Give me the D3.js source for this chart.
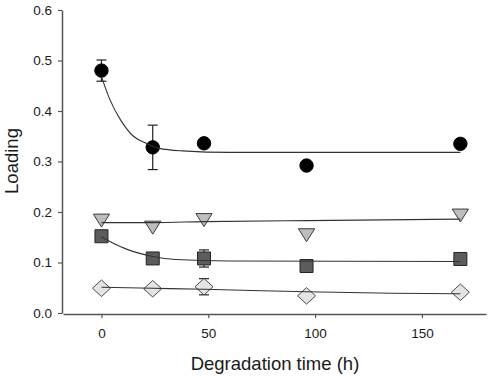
<!DOCTYPE html>
<html>
<head>
<meta charset="utf-8">
<script src="https://cdn.jsdelivr.net/npm/d3@7"></script>
<style>
  body { margin: 0; background: #fff; }
  svg { display: block; font-family: Arial, "Liberation Sans", sans-serif; }
</style>
</head>
<body>
<div id="chart"></div>
<script>
// measured times (h)
var times = [0, 24, 48, 96, 168];

// marker values per series
var circleVals = [0.480, 0.328, 0.336, 0.292, 0.335];
var circleErr = [0.021, 0.044, 0, 0, 0];
var triangleVals = [0.183, 0.169, 0.184, 0.154, 0.193];
var squareVals = [0.152, 0.108, 0.108, 0.093, 0.107];
var squareErr = [0, 0, 0.017, 0, 0];
var diamondVals = [0.049, 0.048, 0.052, 0.034, 0.041];
var diamondErr = [0, 0, 0.016, 0, 0];

// fitted curves
var circleFitT = [0, 4, 9, 15, 21, 27, 38, 60, 100, 168];
var circleFitV = [0.468, 0.422, 0.382, 0.350, 0.336, 0.326, 0.321, 0.318, 0.318, 0.318];
var triangleFitT = [0, 24, 48, 96, 168];
var triangleFitV = [0.179, 0.179, 0.181, 0.183, 0.186];
var squareFitT = [0, 6, 12, 24, 35, 60, 168];
var squareFitV = [0.151, 0.137, 0.126, 0.112, 0.106, 0.103, 0.102];
var diamondFitT = [0, 24, 48, 96, 136, 168];
var diamondFitV = [0.051, 0.049, 0.047, 0.042, 0.039, 0.038];

var xTicks = [0, 50, 100, 150];
var yTicks = [0, 0.1, 0.2, 0.3, 0.4, 0.5, 0.6];

var width = 490, height = 376;

var svg = d3.select("#chart")
    .append("svg")
    .attr("width", width)
    .attr("height", height);

var x = d3.scaleLinear().domain([-18, 180]).range([63, 486]);
var y = d3.scaleLinear().domain([0, 0.6]).range([313, 10]);

// axes
var yAxis = svg.append("g")
    .attr("transform", "translate(62,0)")
    .call(d3.axisLeft(y).tickValues(yTicks).tickFormat(d3.format(".1f"))
        .tickSize(4).tickSizeOuter(0).tickPadding(6));

var xAxis = svg.append("g")
    .attr("transform", "translate(0,314)")
    .call(d3.axisBottom(x).tickValues(xTicks).tickFormat(d3.format("d"))
        .tickSize(4).tickSizeOuter(0).tickPadding(10));

[yAxis, xAxis].forEach(function(a) {
    a.select(".domain").attr("stroke", "#555").attr("stroke-width", 1.5);
    a.selectAll(".tick line").attr("stroke", "#555").attr("stroke-width", 1.2);
    a.selectAll(".tick text").attr("fill", "#1a1a1a").style("font-size", "13.5px");
});

svg.append("text")
    .attr("transform", "translate(18,161) rotate(-90)")
    .attr("text-anchor", "middle")
    .attr("fill", "#1a1a1a")
    .style("font-size", "18.5px")
    .text("Loading");

svg.append("text")
    .attr("x", 275)
    .attr("y", 370)
    .attr("text-anchor", "middle")
    .attr("fill", "#1a1a1a")
    .style("font-size", "18.5px")
    .text("Degradation time (h)");

// custom marker shapes, centred on their bounding box
var triDown = {
    draw: function(ctx, size) {
        var w = Math.sqrt(size) * 1.2, h = w * 0.8;
        ctx.moveTo(-w / 2, -h / 2);
        ctx.lineTo(w / 2, -h / 2);
        ctx.lineTo(0, h / 2);
        ctx.closePath();
    }
};
var wideDiamond = {
    draw: function(ctx, size) {
        var w = Math.sqrt(size), h = w * 0.92;
        ctx.moveTo(0, -h / 2);
        ctx.lineTo(w / 2, 0);
        ctx.lineTo(0, h / 2);
        ctx.lineTo(-w / 2, 0);
        ctx.closePath();
    }
};

var series = [
    {vals: circleVals, err: circleErr, fitT: circleFitT, fitV: circleFitV,
     type: d3.symbolCircle, size: Math.PI * 6.7 * 6.7, fill: "#000", stroke: "#000"},
    {vals: triangleVals, err: null, fitT: triangleFitT, fitV: triangleFitV,
     type: triDown, size: 13.5 * 13.5, fill: "#bdbdbd", stroke: "#3a3a3a"},
    {vals: squareVals, err: squareErr, fitT: squareFitT, fitV: squareFitV,
     type: d3.symbolSquare, size: 13 * 13, fill: "#5c5c5c", stroke: "#222"},
    {vals: diamondVals, err: diamondErr, fitT: diamondFitT, fitV: diamondFitV,
     type: wideDiamond, size: 18 * 18, fill: "#e4e4e4", stroke: "#4a4a4a"}
];

var line = d3.line()
    .x(function(d) { return x(d[0]); })
    .y(function(d) { return y(d[1]); })
    .curve(d3.curveMonotoneX);

series.forEach(function(s) {
    var pts = times.map(function(t, i) { return {t: t, v: s.vals[i], e: s.err ? s.err[i] : 0}; });

    // error bars
    var eb = svg.append("g")
        .selectAll("g")
        .data(pts.filter(function(d) { return d.e > 0; }))
        .enter()
        .append("g")
        .attr("stroke", "#222")
        .attr("stroke-width", 1.2);
    eb.append("line")
        .attr("x1", function(d) { return x(d.t); })
        .attr("x2", function(d) { return x(d.t); })
        .attr("y1", function(d) { return y(d.v - d.e); })
        .attr("y2", function(d) { return y(d.v + d.e); });
    eb.append("line")
        .attr("x1", function(d) { return x(d.t) - 5; })
        .attr("x2", function(d) { return x(d.t) + 5; })
        .attr("y1", function(d) { return y(d.v + d.e); })
        .attr("y2", function(d) { return y(d.v + d.e); });
    eb.append("line")
        .attr("x1", function(d) { return x(d.t) - 5; })
        .attr("x2", function(d) { return x(d.t) + 5; })
        .attr("y1", function(d) { return y(d.v - d.e); })
        .attr("y2", function(d) { return y(d.v - d.e); });

    // markers
    svg.append("g")
        .selectAll("path")
        .data(pts)
        .enter()
        .append("path")
        .attr("transform", function(d) { return "translate(" + x(d.t) + "," + y(d.v) + ")"; })
        .attr("d", d3.symbol().type(s.type).size(s.size))
        .attr("fill", s.fill)
        .attr("stroke", s.stroke)
        .attr("stroke-width", 1);

    // fitted curve on top
    svg.append("path")
        .datum(s.fitT.map(function(t, i) { return [t, s.fitV[i]]; }))
        .attr("d", line)
        .attr("fill", "none")
        .attr("stroke", "#333")
        .attr("stroke-width", 1.1);
});
</script>
</body>
</html>
